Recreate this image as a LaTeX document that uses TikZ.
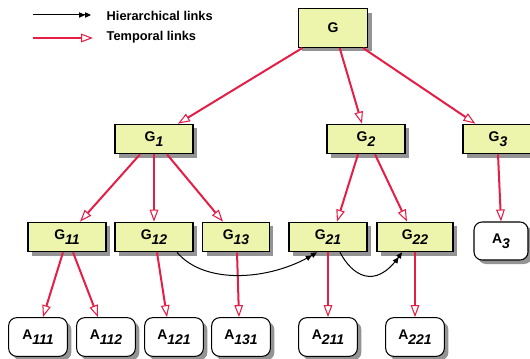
\documentclass[tikz,border=0pt]{standalone}
\usepackage{fontspec}
\setmainfont{Liberation Sans}
\usetikzlibrary{arrows.meta,shadows}

\definecolor{boxfill}{RGB}{237,245,172}
\definecolor{linkred}{RGB}{228,30,70}
\newcommand{\lowidx}[1]{\raisebox{-3.6pt}{\textit{#1}}}

\begin{document}
\begin{tikzpicture}[x=0.75pt,y=-0.75pt,
  font=\fontsize{10.5}{12}\selectfont\bfseries,
  g node/.style={rectangle, draw, line width=1pt, fill=boxfill, minimum width=58.5pt, minimum height=22pt, inner sep=1pt,
    drop shadow={shadow xshift=3pt, shadow yshift=-3pt, fill=black!42, opacity=1}},
  a node/.style={rectangle, rounded corners=6pt, draw, line width=0.8pt, fill=white, minimum width=44pt, minimum height=29pt, inner sep=1pt,
    drop shadow={shadow xshift=3pt, shadow yshift=-3pt, fill=black!42, opacity=1}},
  temporal/.style={draw=linkred, line width=1.5pt, -{Triangle[open, length=9pt, width=6.5pt, line width=0.8pt, fill=white]}},
  hierarchical/.style={draw=black, line width=0.75pt, -{Triangle[length=4.5pt, width=4pt] Triangle[length=4.5pt, width=4pt]}}]
\useasboundingbox (0,0) rectangle (530,359);

% legend
\coordinate (hl0) at (33,15);
\coordinate (hl1) at (91,15);
\coordinate (tl0) at (33,38);
\coordinate (tl1) at (93,38);
\node[anchor=west, font=\fontsize{9.6}{11}\selectfont\bfseries] (hltext) at (102,16) {Hierarchical links};
\node[anchor=west, font=\fontsize{9.6}{11}\selectfont\bfseries] (tltext) at (102,37) {Temporal links};
\draw[hierarchical] (hl0) -- (hl1);
\draw[temporal] (tl0) -- (tl1);

% root
\node[g node, minimum width=52pt, minimum height=29pt] (g) at (333,28) {G};

% level 1
\node[g node] (g1) at (154,139) {G\lowidx{1}};
\node[g node] (g2) at (366,139) {G\lowidx{2}};
\node[g node, minimum width=52.5pt] (g3) at (498,139) {G\lowidx{3}};

% level 2
\node[g node] (g11) at (67,237) {G\lowidx{11}};
\node[g node] (g12) at (154,237) {G\lowidx{12}};
\node[g node, minimum width=50pt] (g13) at (236,237) {G\lowidx{13}};
\node[g node] (g21) at (328,237) {G\lowidx{21}};
\node[g node, minimum width=57pt] (g22) at (415,237) {G\lowidx{22}};
\node[a node, minimum width=40.5pt, minimum height=28.5pt] (a3) at (501,241) {A\lowidx{3}};

% leaves
\node[a node] (a111) at (38,337) {A\lowidx{111}};
\node[a node] (a112) at (106,337) {A\lowidx{112}};
\node[a node] (a121) at (174,337) {A\lowidx{121}};
\node[a node] (a131) at (241,337) {A\lowidx{131}};
\node[a node] (a211) at (328,337) {A\lowidx{211}};
\node[a node] (a221) at (415,337) {A\lowidx{221}};

\path
% root -> level 1
([xshift=-23pt]g.south) edge[temporal] ([xshift=18pt]g1.north)
([xshift=5pt]g.south) edge[temporal] ([xshift=-3pt]g2.north)
([xshift=22.5pt]g.south) edge[temporal] ([xshift=-17pt]g3.north)

% level 1 -> level 2
([xshift=-10.5pt]g1.south) edge[temporal] ([xshift=9.75pt]g11.north)
(g1.south) edge[temporal] (g12.north)
([xshift=9.75pt]g1.south) edge[temporal] ([xshift=-9.75pt]g13.north)
([xshift=-6pt]g2.south) edge[temporal] ([xshift=6.75pt]g21.north)
([xshift=6.75pt]g2.south) edge[temporal] ([xshift=-6pt]g22.north)
(g3.south) edge[temporal] (a3.north)

% level 2 -> leaves
([xshift=-3pt]g11.south) edge[temporal] ([xshift=3.75pt]a111.north)
([xshift=4.5pt]g11.south) edge[temporal] ([xshift=-6pt]a112.north)
([xshift=2.25pt]g12.south) edge[temporal] ([xshift=-5.25pt]a121.north)
([xshift=0.75pt]g13.south) edge[temporal] ([xshift=-1.5pt]a131.north)
(g21.south) edge[temporal] (a211.north)
(g22.south) edge[temporal] (a221.north)
;

% hierarchical links
\draw[hierarchical] ([xshift=17.25pt]g12.south) .. controls +(28,33) and +(-47,28) .. ([xshift=-8.25pt]g21.south);
\draw[hierarchical] ([xshift=9pt]g21.south) .. controls +(12,23) and +(-27,38) .. ([xshift=-9.75pt]g22.south);

\end{tikzpicture}
\end{document}
